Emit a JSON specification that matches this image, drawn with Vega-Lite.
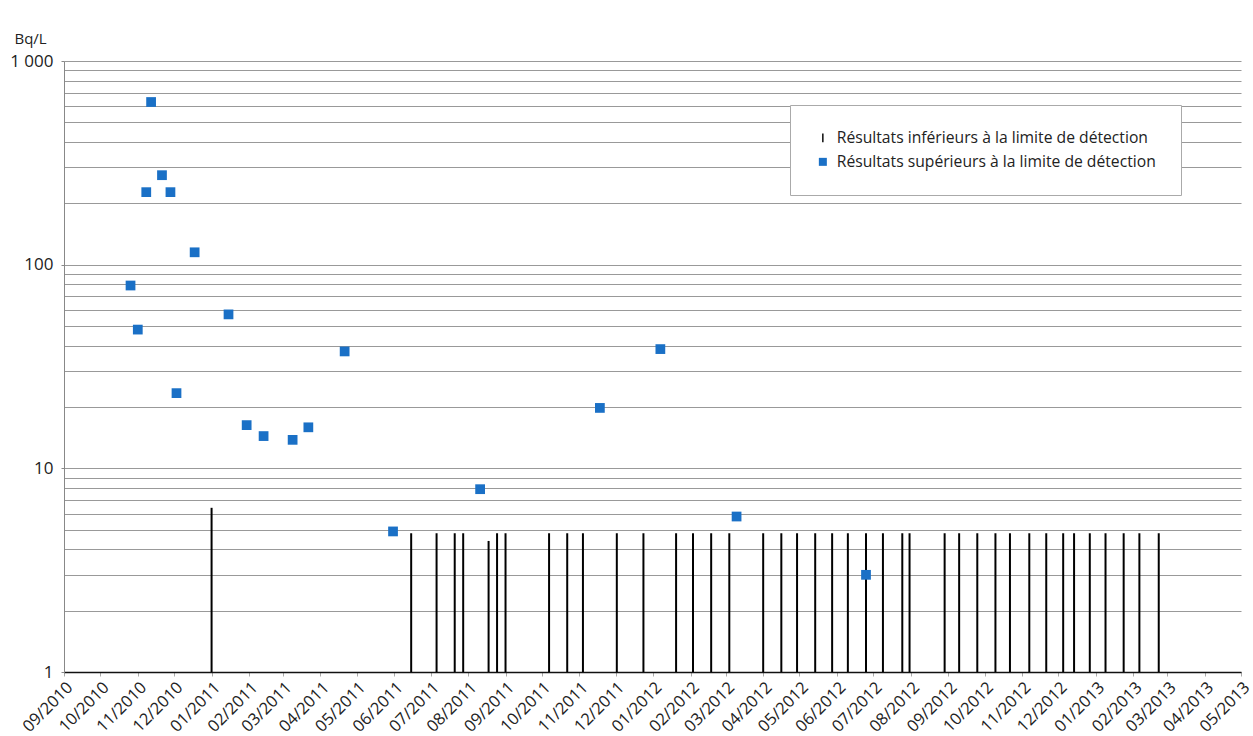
{
  "$schema": "https://vega.github.io/schema/vega-lite/v6.json",
  "width": 1177,
  "height": 611,
  "autosize": {"type": "none"},
  "padding": {"left": 64, "top": 61, "right": 12, "bottom": 64},
  "background": "white",
  "config": {
    "view": {"stroke": null},
    "font": "Open Sans",
    "axis": {"labelColor": "#222", "labelFont": "Open Sans", "titleFont": "Open Sans"}
  },
  "data": {"values": [
    {"date": "2010-10-26", "value": 79, "type": "Résultats supérieurs à la limite de détection"},
    {"date": "2010-11-01", "value": 48, "type": "Résultats supérieurs à la limite de détection"},
    {"date": "2010-11-08", "value": 227, "type": "Résultats supérieurs à la limite de détection"},
    {"date": "2010-11-12", "value": 629, "type": "Résultats supérieurs à la limite de détection"},
    {"date": "2010-11-21", "value": 275, "type": "Résultats supérieurs à la limite de détection"},
    {"date": "2010-11-28", "value": 227, "type": "Résultats supérieurs à la limite de détection"},
    {"date": "2010-12-03", "value": 23.4, "type": "Résultats supérieurs à la limite de détection"},
    {"date": "2010-12-18", "value": 115, "type": "Résultats supérieurs à la limite de détection"},
    {"date": "2011-01-15", "value": 57, "type": "Résultats supérieurs à la limite de détection"},
    {"date": "2011-01-30", "value": 16.3, "type": "Résultats supérieurs à la limite de détection"},
    {"date": "2011-02-13", "value": 14.4, "type": "Résultats supérieurs à la limite de détection"},
    {"date": "2011-03-09", "value": 13.8, "type": "Résultats supérieurs à la limite de détection"},
    {"date": "2011-03-22", "value": 15.9, "type": "Résultats supérieurs à la limite de détection"},
    {"date": "2011-04-21", "value": 37.5, "type": "Résultats supérieurs à la limite de détection"},
    {"date": "2011-05-31", "value": 4.9, "type": "Résultats supérieurs à la limite de détection"},
    {"date": "2011-08-11", "value": 7.9, "type": "Résultats supérieurs à la limite de détection"},
    {"date": "2011-11-18", "value": 19.8, "type": "Résultats supérieurs à la limite de détection"},
    {"date": "2012-01-07", "value": 38.5, "type": "Résultats supérieurs à la limite de détection"},
    {"date": "2012-03-10", "value": 5.8, "type": "Résultats supérieurs à la limite de détection"},
    {"date": "2012-06-25", "value": 3.0, "type": "Résultats supérieurs à la limite de détection"},
    {"date": "2011-01-01", "value": 6.4, "type": "Résultats inférieurs à la limite de détection"},
    {"date": "2011-06-15", "value": 4.8, "type": "Résultats inférieurs à la limite de détection"},
    {"date": "2011-07-06", "value": 4.8, "type": "Résultats inférieurs à la limite de détection"},
    {"date": "2011-07-21", "value": 4.8, "type": "Résultats inférieurs à la limite de détection"},
    {"date": "2011-07-28", "value": 4.8, "type": "Résultats inférieurs à la limite de détection"},
    {"date": "2011-08-18", "value": 4.4, "type": "Résultats inférieurs à la limite de détection"},
    {"date": "2011-08-25", "value": 4.8, "type": "Résultats inférieurs à la limite de détection"},
    {"date": "2011-09-01", "value": 4.8, "type": "Résultats inférieurs à la limite de détection"},
    {"date": "2011-10-07", "value": 4.8, "type": "Résultats inférieurs à la limite de détection"},
    {"date": "2011-10-22", "value": 4.8, "type": "Résultats inférieurs à la limite de détection"},
    {"date": "2011-11-04", "value": 4.8, "type": "Résultats inférieurs à la limite de détection"},
    {"date": "2011-12-02", "value": 4.8, "type": "Résultats inférieurs à la limite de détection"},
    {"date": "2011-12-24", "value": 4.8, "type": "Résultats inférieurs à la limite de détection"},
    {"date": "2012-01-20", "value": 4.8, "type": "Résultats inférieurs à la limite de détection"},
    {"date": "2012-02-03", "value": 4.8, "type": "Résultats inférieurs à la limite de détection"},
    {"date": "2012-02-18", "value": 4.8, "type": "Résultats inférieurs à la limite de détection"},
    {"date": "2012-03-04", "value": 4.8, "type": "Résultats inférieurs à la limite de détection"},
    {"date": "2012-04-01", "value": 4.8, "type": "Résultats inférieurs à la limite de détection"},
    {"date": "2012-04-16", "value": 4.8, "type": "Résultats inférieurs à la limite de détection"},
    {"date": "2012-04-29", "value": 4.8, "type": "Résultats inférieurs à la limite de détection"},
    {"date": "2012-05-14", "value": 4.8, "type": "Résultats inférieurs à la limite de détection"},
    {"date": "2012-05-28", "value": 4.8, "type": "Résultats inférieurs à la limite de détection"},
    {"date": "2012-06-10", "value": 4.8, "type": "Résultats inférieurs à la limite de détection"},
    {"date": "2012-06-25", "value": 4.8, "type": "Résultats inférieurs à la limite de détection"},
    {"date": "2012-07-09", "value": 4.8, "type": "Résultats inférieurs à la limite de détection"},
    {"date": "2012-07-25", "value": 4.8, "type": "Résultats inférieurs à la limite de détection"},
    {"date": "2012-07-31", "value": 4.8, "type": "Résultats inférieurs à la limite de détection"},
    {"date": "2012-08-29", "value": 4.8, "type": "Résultats inférieurs à la limite de détection"},
    {"date": "2012-09-10", "value": 4.8, "type": "Résultats inférieurs à la limite de détection"},
    {"date": "2012-09-25", "value": 4.8, "type": "Résultats inférieurs à la limite de détection"},
    {"date": "2012-10-10", "value": 4.8, "type": "Résultats inférieurs à la limite de détection"},
    {"date": "2012-10-22", "value": 4.8, "type": "Résultats inférieurs à la limite de détection"},
    {"date": "2012-11-07", "value": 4.8, "type": "Résultats inférieurs à la limite de détection"},
    {"date": "2012-11-21", "value": 4.8, "type": "Résultats inférieurs à la limite de détection"},
    {"date": "2012-12-05", "value": 4.8, "type": "Résultats inférieurs à la limite de détection"},
    {"date": "2012-12-14", "value": 4.8, "type": "Résultats inférieurs à la limite de détection"},
    {"date": "2012-12-27", "value": 4.8, "type": "Résultats inférieurs à la limite de détection"},
    {"date": "2013-01-09", "value": 4.8, "type": "Résultats inférieurs à la limite de détection"},
    {"date": "2013-01-24", "value": 4.8, "type": "Résultats inférieurs à la limite de détection"},
    {"date": "2013-02-06", "value": 4.8, "type": "Résultats inférieurs à la limite de détection"},
    {"date": "2013-02-22", "value": 4.8, "type": "Résultats inférieurs à la limite de détection"}
  ]},
  "encoding": {
    "x": {
      "field": "date", "type": "temporal",
      "scale": {"type": "utc", "domain": [{"year": 2010, "month": 9, "date": 1, "utc": true}, {"year": 2013, "month": 5, "date": 1, "utc": true}], "nice": false},
      "axis": {
        "title": null, "format": "%m/%Y", "tickCount": {"interval": "month", "step": 1},
        "labelAngle": -45, "labelFontSize": 16.5, "labelOverlap": false, "labelBound": false,
        "grid": false, "domainColor": "#111", "domainWidth": 1.5, "tickColor": "#aaa", "tickSize": 4, "labelPadding": 3
      }
    },
    "y": {
      "field": "value", "type": "quantitative",
      "scale": {"type": "log", "domain": [1, 1000], "nice": false},
      "axis": {
        "title": "Bq/L", "titleAngle": 0, "titleAlign": "left", "titleBaseline": "alphabetic",
        "titleX": -50, "titleY": -18, "titleFontSize": 15, "titleFontWeight": "normal", "titleColor": "#222",
        "values": [1,2,3,4,5,6,7,8,9,10,20,30,40,50,60,70,80,90,100,200,300,400,500,600,700,800,900,1000],
        "labelExpr": "datum.value==1000 ? '1 000' : (datum.value==100 ? '100' : (datum.value==10 ? '10' : (datum.value==1 ? '1' : '')))",
        "labelFontSize": 17, "labelOverlap": false, "labelPadding": 8, "labelBound": false,
        "grid": true, "gridColor": "#999", "gridWidth": 1,
        "domainColor": "#888", "tickColor": "#888", "tickSize": 3,
        "tickOpacity": {"condition": {"test": "datum.value==1 || datum.value==10 || datum.value==100 || datum.value==1000", "value": 1}, "value": 0}
      }
    }
  },
  "layer": [
    {
      "transform": [{"filter": "datum.type == 'Résultats inférieurs à la limite de détection'"}],
      "mark": {"type": "rule", "color": "black", "strokeWidth": 2},
      "encoding": {"y2": {"datum": 1}}
    },
    {
      "transform": [{"filter": "datum.type == 'Résultats supérieurs à la limite de détection'"}],
      "mark": {"type": "point", "filled": true, "size": 95, "opacity": 1},
      "encoding": {
        "color": {
          "field": "type", "type": "nominal",
          "scale": {"domain": ["Résultats inférieurs à la limite de détection", "Résultats supérieurs à la limite de détection"], "range": ["black", "#1A70C6"]},
          "legend": {
            "title": null, "orient": "none", "legendX": 726, "legendY": 44,
            "padding": 25, "fillColor": "white", "strokeColor": "#aaa",
            "labelFont": "Open Sans", "labelFontSize": 15.7, "labelColor": "#222", "labelLimit": 500,
            "symbolSize": 64, "symbolStrokeWidth": 0, "rowPadding": 7, "labelOffset": 6
          }
        },
        "shape": {
          "field": "type", "type": "nominal",
          "scale": {"domain": ["Résultats inférieurs à la limite de détection", "Résultats supérieurs à la limite de détection"], "range": ["M-0.18,-1.1H0.18V1.1H-0.18Z", "square"]},
          "legend": {
            "title": null, "orient": "none", "legendX": 726, "legendY": 44,
            "padding": 25, "fillColor": "white", "strokeColor": "#aaa",
            "labelFont": "Open Sans", "labelFontSize": 15.7, "labelColor": "#222", "labelLimit": 500,
            "symbolSize": 64, "symbolStrokeWidth": 0, "rowPadding": 7, "labelOffset": 6
          }
        }
      }
    }
  ]
}
